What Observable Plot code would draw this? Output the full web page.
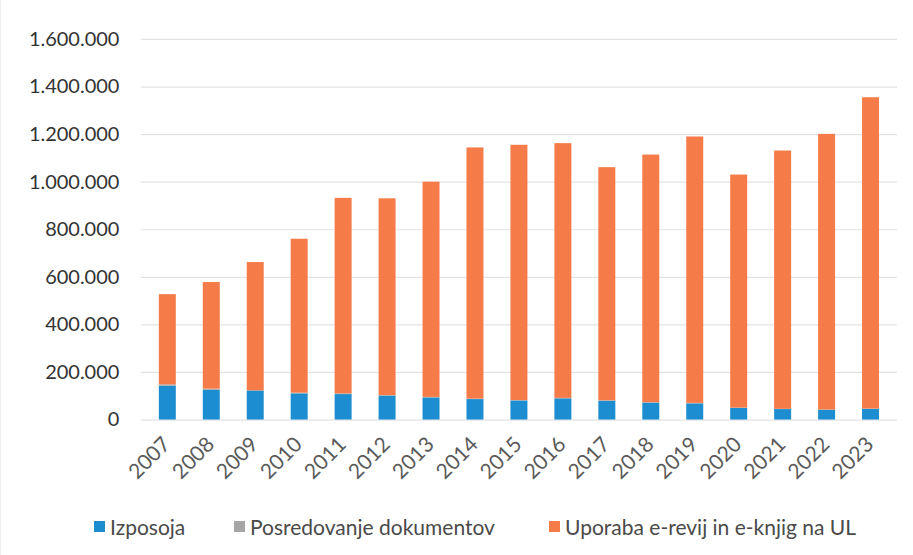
<!DOCTYPE html>
<html>
<head>
<meta charset="utf-8">
<script src="https://cdn.jsdelivr.net/npm/d3@7"></script>
<script src="https://cdn.jsdelivr.net/npm/@observablehq/plot@0.6"></script>
<style>
  body { margin: 0; background: #fff; font-family: Lato, "Open Sans", sans-serif; }
  #wrap { position: relative; width: 913px; height: 555px; box-sizing: border-box; border-left: 1px solid #ececec; }
  #legend { position: relative; height: 30px; margin-top: 22px; font-size: 21px; color: #4a4a4a; }
  .item { position: absolute; top: 0; display: flex; align-items: center; height: 30px; }
  .sw { width: 11px; height: 11px; margin-right: 5px; }
</style>
</head>
<body>
<div id="wrap">
  <div id="chart"></div>
  <div id="legend"></div>
</div>
<script>
const years = ["2007","2008","2009","2010","2011","2012","2013","2014","2015","2016","2017","2018","2019","2020","2021","2022","2023"];
const izposoja = [142000,125000,120000,110000,107000,100000,93000,86000,80000,89000,79000,71000,68000,49000,44000,41000,45000];
const posredovanje = [6000,5000,4000,3000,3000,3000,2000,2000,2000,2000,2000,2000,2000,1000,1000,1000,1000];
const uporaba = [379000,448000,538000,647000,822000,827000,905000,1056000,1073000,1071000,980000,1041000,1120000,980000,1086000,1159000,1309000];
const seriesNames = ["Izposoja","Posredovanje dokumentov","Uporaba e-revij in e-knjig na UL"];
const seriesColors = ["#1c8dd0","#a5a5a5","#f57b48"];
const yTicks = [0,200000,400000,600000,800000,1000000,1200000,1400000,1600000];

const seriesValues = [izposoja, posredovanje, uporaba];
const data = [];
years.forEach((yr, i) => {
  seriesNames.forEach((s, j) => data.push({year: yr, series: s, value: seriesValues[j][i]}));
});

const fmt = d3.formatLocale({decimal: ",", thousands: ".", grouping: [3], currency: ["", "€"]}).format(",d");

const chart = Plot.plot({
  width: 913,
  height: 490,
  marginTop: 39,
  marginBottom: 70,
  marginLeft: 140,
  marginRight: 16,
  style: {fontFamily: "Lato, 'Open Sans', sans-serif", fontSize: "20px", color: "#333", background: "transparent"},
  x: {domain: years, paddingInner: 0.62, paddingOuter: 0.31, label: null},
  y: {domain: [0, 1600000], label: null},
  color: {domain: seriesNames, range: seriesColors},
  marks: [
    Plot.ruleY(yTicks, {stroke: "#e3e3e3", strokeWidth: 1.2}),
    Plot.barY(data, Plot.stackY({x: "year", y: "value", fill: "series", order: null})),
    Plot.axisY({ticks: yTicks, tickFormat: fmt, tickSize: 0, tickPadding: 22, fontSize: 20, fill: "#333", label: null}),
    Plot.axisX({tickSize: 0, tickRotate: -45, tickPadding: 8, fontSize: 21, fill: "#5a5a5a", label: null})
  ]
});
document.getElementById("chart").appendChild(chart);
// nudge the rotated year labels down to sit like the reference
d3.select(chart).selectAll('g[aria-label="x-axis tick label"]').attr("transform", function() {
  const t = this.getAttribute("transform") || "";
  return "translate(-1,13) " + t;
});

const legend = document.getElementById("legend");
const lefts = [93, 233, 548];
seriesNames.forEach((s, j) => {
  const it = document.createElement("div");
  it.className = "item";
  it.style.left = lefts[j] + "px";
  const sw = document.createElement("div");
  sw.className = "sw";
  sw.style.background = seriesColors[j];
  const t = document.createElement("span");
  t.textContent = s;
  it.appendChild(sw); it.appendChild(t);
  legend.appendChild(it);
});
</script>
</body>
</html>
